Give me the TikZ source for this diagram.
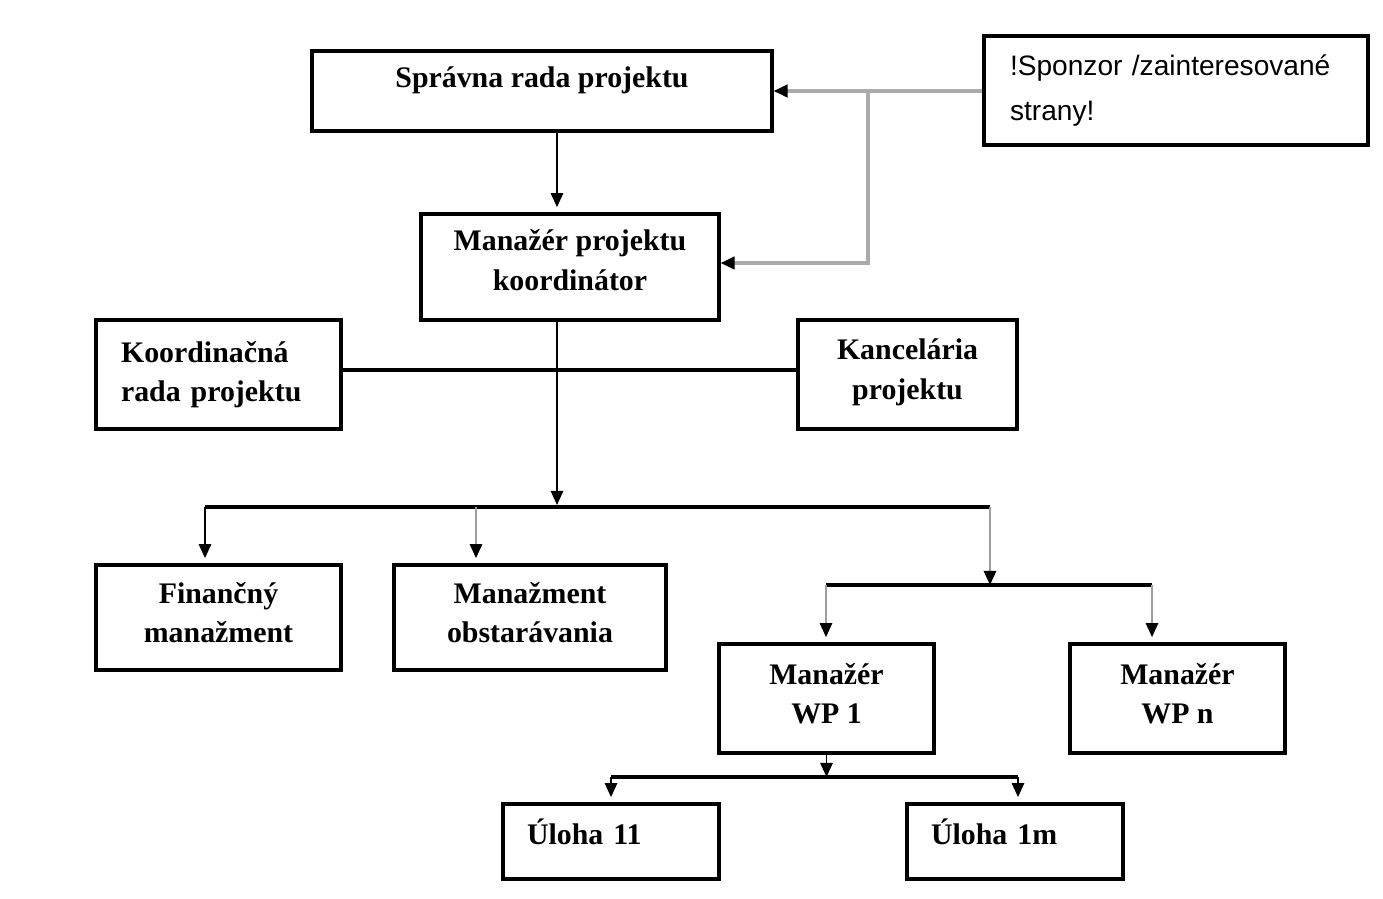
\documentclass[tikz,border=0pt]{standalone}
\usepackage{fontspec}
\setmainfont{Liberation Serif}
\newfontfamily\sponzorfont{Liberation Sans}
\usetikzlibrary{arrows.meta}

\begin{document}
\begin{tikzpicture}[x=0.02cm, y=-0.02cm,
  box/.style={draw, line width=1.8pt, align=center, inner sep=0pt,
    font=\fontsize{17}{22.5}\selectfont\bfseries},
  leftbox/.style={box, align=left, inner xsep=0.5cm, text width=#1},
  bus/.style={line width=2pt},
  link/.style={line width=1.1pt, -{Triangle[length=8pt,width=7pt,color=black]}, shorten >=3pt},
  glink/.style={link, draw=black!38},
  sline/.style={line width=2.3pt, draw=black!33}]
\useasboundingbox (0,0) rectangle (1383,899);

% boxes
\node[box, minimum width=9.2cm, minimum height=1.6cm, text depth=16pt] (spr) at (542,91) {Správna rada projektu};
\node[leftbox=6.64cm, inner xsep=0.52cm, minimum height=2.18cm,
  font=\sponzorfont\fontsize{16}{26}\selectfont] (spo) at (1176,90.5) {!Sponzor /zainteresované\\strany!};
\node[box, minimum width=5.96cm, minimum height=2.12cm, text depth=8pt] (mpk) at (570,267) {Manažér projektu\\koordinátor};
\node[leftbox=3.9cm, minimum height=2.18cm] (krp) at (218.5,374.5) {Koordinačná\\rada projektu};
\node[box, minimum width=4.38cm, minimum height=2.18cm, text depth=6pt] (kan) at (907.5,374.5) {Kancelária\\projektu};
\node[box, minimum width=4.9cm, minimum height=2.1cm, text depth=6pt] (fin) at (218.5,617.5) {Finančný\\manažment};
\node[box, minimum width=5.44cm, minimum height=2.1cm, text depth=6pt] (obs) at (530,617.5) {Manažment\\obstarávania};
\node[box, minimum width=4.3cm, minimum height=2.18cm, text depth=6pt] (wp1) at (826.5,698.5) {Manažér\\WP 1};
\node[box, minimum width=4.3cm, minimum height=2.18cm, text depth=6pt] (wpn) at (1177.5,698.5) {Manažér\\WP n};
\node[leftbox=3.36cm, inner xsep=0.48cm, minimum height=1.5cm, text depth=11pt] (u11) at (611,841.5) {Úloha 11};
\node[leftbox=3.36cm, inner xsep=0.48cm, minimum height=1.5cm, text depth=11pt] (u1m) at (1015,841.5) {Úloha 1m};

% sponzor lines
\coordinate (sj) at (868,91);
\coordinate (sk) at (868,263);
\draw[sline, -{Triangle[length=8pt,width=7pt,color=black]}] (spo.west |- sj) -- (spr.east);
\draw[sline, -{Triangle[length=8pt,width=7pt,color=black]}] (sj) -- (sk) -- (sk -| mpk.east);

% main spine
\coordinate (spine) at (557,505);
\coordinate (kl) at (557,370);
\draw[link] (spr.south -| spine) -- (mpk.north -| spine);
\draw[bus] (krp.east |- kl) -- (kan.west |- kl);
\draw[link, shorten >=0pt] (mpk.south -| spine) -- (spine);

% first level
\coordinate (b1l) at (205,507);
\coordinate (b1m) at (476,507);
\coordinate (b1r) at (990,507);
\draw[bus] (b1l) -- (b1r);
\draw[link] (b1l) -- (b1l |- fin.north);
\draw[glink] (b1m) -- (b1m |- obs.north);

% work packages
\coordinate (b2l) at (826,585);
\coordinate (b2r) at (1152,585);
\draw[glink, shorten >=0pt] (b1r) -- (b1r |- b2l);
\draw[bus] (b2l) -- (b2r);
\draw[glink] (b2l) -- (b2l |- wp1.north);
\draw[glink] (b2r) -- (b2r |- wpn.north);

% tasks
\coordinate (b3l) at (611,777);
\coordinate (b3r) at (1018,777);
\draw[link, shorten >=0pt] (wp1.south) -- (wp1.south |- b3l);
\draw[bus] (b3l) -- (b3r);
\draw[link] (b3l) -- (b3l |- u11.north);
\draw[link] (b3r) -- (b3r |- u1m.north);
\end{tikzpicture}
\end{document}
